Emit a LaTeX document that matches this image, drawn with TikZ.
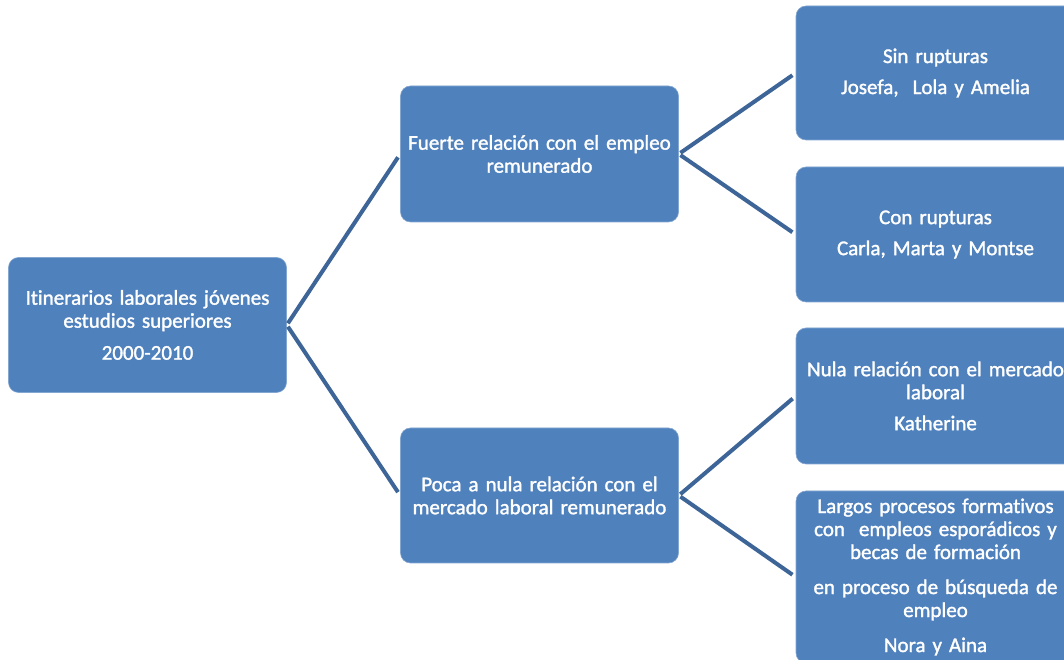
\documentclass[tikz,border=0pt]{standalone}
\usepackage{fontspec}
\setmainfont{Carlito}[Ligatures={NoCommon}, FakeBold={1.5}]
\definecolor{boxblue}{HTML}{4F81BD}
\definecolor{lineblue}{HTML}{3E6597}
\newcommand{\boxfont}{\fontsize{21}{23}\selectfont\spaceskip=3.2pt plus 0pt minus 0pt\relax}
\begin{document}
\begin{tikzpicture}[x=1pt,y=1pt,
  box/.style={rectangle, rounded corners=10pt, fill=boxblue, draw=boxblue!70!white, line width=0.6pt,
    text=white, align=center, inner sep=4pt, font=\boxfont},
  conn/.style={draw=lineblue, line width=4pt, shorten <=2pt, shorten >=4pt}]
\useasboundingbox (0,0) rectangle (1064,660);
\fill[white] (0,0) rectangle (1064,660);
% root
\node[box, minimum width=275pt, minimum height=135pt, text width=270pt] (root) at (147.5,335)
  {Itinerarios laborales jóvenes\\ estudios superiores\\[9pt] 2000-2010};
\node[box, minimum width=275pt, minimum height=136pt, text width=270pt] (mid1) at (539.5,506)
  {Fuerte relación con el empleo\\ remunerado};
\node[box, minimum width=275pt, minimum height=135pt, text width=270pt] (mid2) at (539.5,164.5)
  {Poca a nula relación con el\\ mercado laboral remunerado};
\node[box, minimum width=279pt, minimum height=134pt, text width=268pt] (leaf1) at (935.5,587)
  {Sin rupturas\\[8pt] Josefa,\ \ Lola y Amelia};
\node[box, minimum width=279pt, minimum height=135pt, text width=268pt] (leaf2) at (935.5,425.5)
  {Con rupturas\\[8pt] Carla, Marta y Montse};
\node[box, minimum width=279pt, minimum height=136pt, text width=268pt] (leaf3) at (935.5,264)
  {Nula relación con el mercado\\ laboral\\[8pt] Katherine};
\node[box, minimum width=279pt, minimum height=172pt, text width=268pt] (leaf4) at (935.5,83)
  {Largos procesos formativos\\ con\ \ empleos esporádicos y\\ becas de formación\\[12pt] en proceso de búsqueda de\\ empleo\\[12pt] Nora y Aina};
\draw[conn] (root.east) -- (mid1.west);
\draw[conn] (root.east) -- (mid2.west);
\draw[conn] (mid1.east) -- (leaf1.west);
\draw[conn] (mid1.east) -- (leaf2.west);
\draw[conn] (mid2.east) -- (leaf3.west);
\draw[conn] (mid2.east) -- (leaf4.west);
\end{tikzpicture}
\end{document}
